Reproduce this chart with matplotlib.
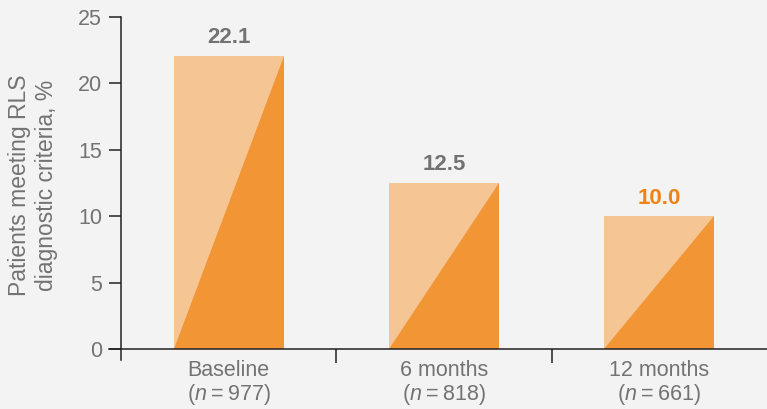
import matplotlib.pyplot as plt
from matplotlib.patches import Polygon, Rectangle

plt.rcParams['font.family'] = ['Liberation Sans', 'DejaVu Sans']
plt.rcParams['mathtext.fontset'] = 'custom'
plt.rcParams['mathtext.it'] = 'Liberation Sans:italic'
plt.rcParams['mathtext.rm'] = 'Liberation Sans'

# data
groups = ['Baseline', '6 months', '12 months']
n_values = [977, 818, 661]
percent = [22.1, 12.5, 10.0]
label_colors = ['#727272', '#727272', '#EE8215']

light = '#F5C594'
dark = '#F19535'
grey = '#737373'
bg = '#F3F3F3'

W, H = 767, 409
fig = plt.figure(figsize=(W / 100, H / 100), dpi=100, facecolor=bg)
# axes box in pixels: x 109..767, y 17..360
ax = fig.add_axes([109 / W, (H - 360) / H, (W - 109) / W, (360 - 17) / H])
ax.set_facecolor(bg)

ppu = (349 - 17) / 25.0  # pixels per y unit
ax.set_ylim(-(360 - 349) / ppu, 25)
ax.set_xlim(-0.5 - 12 / 215, 2.5)

bw = 110 / 215
for i, v in enumerate(percent):
    x0, x1 = i - bw / 2, i + bw / 2
    ax.add_patch(Rectangle((x0, 0), bw, v, facecolor=light, edgecolor='none'))
    ax.add_patch(Polygon([(x0, 0), (x1, 0), (x1, v)], closed=True,
                         facecolor=dark, edgecolor='none'))
    ax.annotate(f'{v:.1f}', (i, v), xytext=(0, 9), textcoords='offset points',
                ha='center', va='baseline', fontsize=16, fontweight='bold',
                color=label_colors[i])

for s in ['top', 'right']:
    ax.spines[s].set_visible(False)
ax.spines['left'].set_position(('data', -0.5))
ax.spines['bottom'].set_position(('data', 0))
for s in ['left', 'bottom']:
    ax.spines[s].set_color('#222222')
    ax.spines[s].set_linewidth(1.1)

ax.set_yticks(range(0, 26, 5))
ax.tick_params(axis='y', direction='out', length=8.6, width=1.1, color='#222222',
               labelsize=15.5, labelcolor=grey, pad=5)

ax.set_xticks(range(len(groups)))
ax.set_xticklabels([f'{g}\n($\\it{{n}}$\u2009=\u2009{n})' for g, n in zip(groups, n_values)],
                   linespacing=1.05)
ax.set_xticks([0.5, 1.5], minor=True)
ax.tick_params(axis='x', which='major', length=0, labelsize=15.5, labelcolor=grey, pad=8)
ax.tick_params(axis='x', which='minor', direction='out', length=10, width=1.1,
               color='#222222')

fig.text(33 / W, 1 - 185 / H, 'Patients meeting RLS\ndiagnostic criteria, %',
         rotation=90, ha='center', va='center', fontsize=16.5, color=grey,
         linespacing=1.2)

fig.savefig('out.png', dpi=100, facecolor=bg)
